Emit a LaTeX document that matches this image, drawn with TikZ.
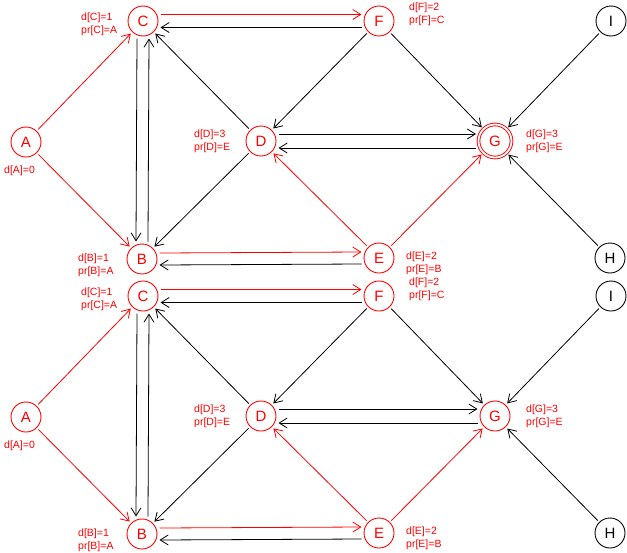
\documentclass[tikz,border=0pt]{standalone}
\usepackage{fontspec}
\setmainfont{Liberation Sans}
\usetikzlibrary{arrows.meta}

\begin{document}
\begin{tikzpicture}[x=1pt, y=1pt,
    >={Straight Barb[length=8pt, width=10pt]},
    vertex/.style={draw, circle, line width=0.9pt, minimum size=30pt,
                   inner sep=0pt, outer sep=2.5pt,
                   font=\fontsize{15}{15}\selectfont},
    done/.style={vertex, red},
    todo/.style={vertex, black},
    goal/.style={done, minimum size=33pt, double, double distance=1.8pt},
    info/.style={anchor=west, align=left, red, inner sep=0pt,
                 font=\fontsize{10.5}{13}\selectfont},
    edge/.style={->, line width=0.8pt},
    tree/.style={edge, red}]

    \useasboundingbox (0,0) rectangle (627,-552);

    % 上图: 顶点
    \node[done] (A) at (26,-142) {A};
    \node[done] (C) at (143,-21) {C};
    \node[done] (B) at (142,-259) {B};
    \node[done] (D) at (261,-141) {D};
    \node[done] (F) at (379,-21) {F};
    \node[done] (E) at (379,-258) {E};
    \node[goal] (G) at (495,-141) {G};
    \node[todo] (I) at (611,-21) {I};
    \node[todo] (H) at (610,-258) {H};

    % 上图: 标注
    \node[info] (lA) at (4,-171) {d[A]=0};
    \node[info] (lC) at (81,-24) {d[C]=1\\pr[C]=A};
    \node[info] (lB) at (78,-265) {d[B]=1\\pr[B]=A};
    \node[info] (lD) at (194,-141) {d[D]=3\\pr[D]=E};
    \node[info] (lF) at (409,-14) {d[F]=2\\pr[F]=C};
    \node[info] (lE) at (406,-263) {d[E]=2\\pr[E]=B};
    \node[info] (lG) at (526,-141) {d[G]=3\\pr[G]=E};

    % 上图: 边
    \draw[tree] (A) -- (C);
    \draw[tree] (A) -- (B);
    \draw[edge] ([xshift=-6pt]C.south) -- ([xshift=-6pt]B.north);
    \draw[edge] ([xshift=6pt]B.north) -- ([xshift=6pt]C.south);
    \draw[tree] ([yshift=6.5pt]C.east) -- ([yshift=6.5pt]F.west);
    \draw[edge] ([yshift=-6.5pt]F.west) -- ([yshift=-6.5pt]C.east);
    \draw[tree] ([yshift=6pt]B.east) -- ([yshift=6pt]E.west);
    \draw[edge] ([yshift=-6pt]E.west) -- ([yshift=-6pt]B.east);
    \draw[edge] ([yshift=7pt]D.east) -- ([yshift=7pt]G.west);
    \draw[edge] ([yshift=-7pt]G.west) -- ([yshift=-7pt]D.east);
    \draw[edge] (D) -- (C);
    \draw[edge] (D) -- (B);
    \draw[edge] (F) -- (D);
    \draw[edge] (F) -- (G);
    \draw[tree] (E) -- (D);
    \draw[tree] (E) -- (G);
    \draw[edge] (I) -- (G);
    \draw[edge] (H) -- (G);

    % 下图
    \begin{scope}[yshift=-275pt]
    \node[done] (A2) at (26,-142) {A};
    \node[done] (C2) at (143,-21) {C};
    \node[done] (B2) at (142,-259) {B};
    \node[done] (D2) at (261,-141) {D};
    \node[done] (F2) at (379,-21) {F};
    \node[done] (E2) at (379,-258) {E};
    \node[done] (G2) at (495,-141) {G};
    \node[todo] (I2) at (611,-21) {I};
    \node[todo] (H2) at (610,-258) {H};

    \node[info] (lA2) at (4,-171) {d[A]=0};
    \node[info] (lC2) at (81,-24) {d[C]=1\\pr[C]=A};
    \node[info] (lB2) at (78,-265) {d[B]=1\\pr[B]=A};
    \node[info] (lD2) at (194,-141) {d[D]=3\\pr[D]=E};
    \node[info] (lF2) at (409,-14) {d[F]=2\\pr[F]=C};
    \node[info] (lE2) at (406,-263) {d[E]=2\\pr[E]=B};
    \node[info] (lG2) at (526,-141) {d[G]=3\\pr[G]=E};

    \draw[tree] (A2) -- (C2);
    \draw[tree] (A2) -- (B2);
    \draw[edge] ([xshift=-6pt]C2.south) -- ([xshift=-6pt]B2.north);
    \draw[edge] ([xshift=6pt]B2.north) -- ([xshift=6pt]C2.south);
    \draw[tree] ([yshift=6.5pt]C2.east) -- ([yshift=6.5pt]F2.west);
    \draw[edge] ([yshift=-6.5pt]F2.west) -- ([yshift=-6.5pt]C2.east);
    \draw[tree] ([yshift=6pt]B2.east) -- ([yshift=6pt]E2.west);
    \draw[edge] ([yshift=-6pt]E2.west) -- ([yshift=-6pt]B2.east);
    \draw[edge] ([yshift=7pt]D2.east) -- ([yshift=7pt]G2.west);
    \draw[edge] ([yshift=-7pt]G2.west) -- ([yshift=-7pt]D2.east);
    \draw[edge] (D2) -- (C2);
    \draw[edge] (D2) -- (B2);
    \draw[edge] (F2) -- (D2);
    \draw[edge] (F2) -- (G2);
    \draw[tree] (E2) -- (D2);
    \draw[tree] (E2) -- (G2);
    \draw[edge] (I2) -- (G2);
    \draw[edge] (H2) -- (G2);
    \end{scope}

\end{tikzpicture}
\end{document}
